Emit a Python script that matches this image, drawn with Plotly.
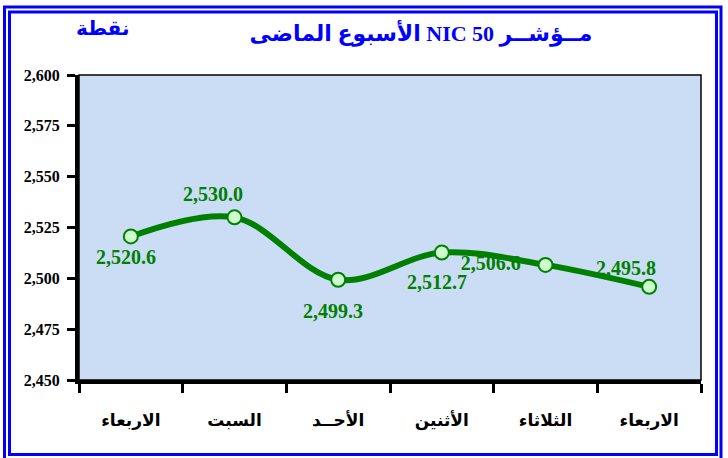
import plotly.graph_objects as go

# ---- data ----
days = ["الاربعاء", "السبت", "الأحــد", "الأثنين", "الثلاثاء", "الاربعاء"]
values = [2520.6, 2530.0, 2499.3, 2512.7, 2506.6, 2495.8]
y_ticks = [2450, 2475, 2500, 2525, 2550, 2575, 2600]
title_text = "الأسبوع الماضى NIC 50 مــؤشــر"
unit_text = "نقطة"

# label offsets (pixels) relative to each point
label_dx = [-5, -22, -5, -5, None, -23]
label_dy = [-21, 23, -31, -29, None, 19]

W, H = 728, 458
PL, PR, PT, PB = 79, 701, 74.5, 380


def px(x):
    return (x - PL) / (PR - PL)


def py(y):
    return (PB - y) / (PB - PT)


GREEN = "#008000"
BLUE = "#0000ff"
xs = list(range(len(days)))
bounds = [i - 0.5 for i in range(len(days) + 1)]

fig = go.Figure()

# label that sits behind the line (index 4)
fig.add_trace(go.Scatter(
    x=[xs[4]], y=[values[4]], mode="markers+text",
    marker=dict(size=38, opacity=0),
    text=[f"{values[4]:,.1f}"], textposition="middle left",
    textfont=dict(family="Liberation Serif", size=20, color=GREEN, weight="bold"),
    hoverinfo="skip", showlegend=False,
))

fig.add_trace(go.Scatter(
    x=xs, y=values, mode="lines+markers",
    line=dict(color=GREEN, width=6, shape="spline", smoothing=1.0),
    marker=dict(size=14, color="#ccffcc", line=dict(color=GREEN, width=2)),
    showlegend=False,
))

annotations = []
for i, v in enumerate(values):
    if label_dx[i] is None:
        continue
    annotations.append(dict(
        x=xs[i], y=v, xref="x", yref="y", text=f"{v:,.1f}", showarrow=False,
        xshift=label_dx[i], yshift=label_dy[i],
        font=dict(family="Liberation Serif", size=20, color=GREEN, weight="bold"),
    ))

annotations.append(dict(
    x=px(103), y=py(27), xref="paper", yref="paper", text=unit_text,
    showarrow=False, xanchor="center", yanchor="middle",
    font=dict(family="Liberation Sans, DejaVu Sans", size=20, color=BLUE, weight="bold"),
))

shapes = [
    dict(type="rect", xref="paper", yref="paper", x0=0, x1=1, y0=0, y1=1,
         line=dict(color="black", width=1.5), layer="below"),
    dict(type="rect", xref="paper", yref="paper",
         x0=px(4.5), x1=px(721), y0=py(6.5), y1=py(462),
         line=dict(color=BLUE, width=3)),
    dict(type="rect", xref="paper", yref="paper",
         x0=px(9.5), x1=px(716.5), y0=py(11.5), y1=py(454.5),
         line=dict(color=BLUE, width=3)),
]

fig.update_layout(
    width=W, height=H,
    margin=dict(l=PL, r=W - PR, t=PT, b=H - PB),
    paper_bgcolor="white",
    plot_bgcolor="#cbdcf5",
    title=dict(
        text=title_text, xref="container", yref="container",
        x=421 / W, y=1 - 33 / H, xanchor="center", yanchor="middle",
        font=dict(family="Liberation Serif, DejaVu Sans", size=22, color=BLUE, weight="bold"),
    ),
    xaxis=dict(
        range=[-0.5, len(days) - 0.5],
        tickmode="array", tickvals=xs, ticktext=days, ticks="",
        ticklabelstandoff=22,
        tickfont=dict(family="Liberation Sans, DejaVu Sans", size=17, color="black", weight="bold"),
        showline=True, linecolor="black", linewidth=4,
        showgrid=False, zeroline=False,
        minor=dict(tickmode="array", tickvals=bounds, ticks="outside",
                   ticklen=9, tickwidth=3, tickcolor="black", showgrid=False),
    ),
    xaxis2=dict(
        overlaying="x", anchor="y", side="bottom",
        range=[-0.5, len(days) - 0.5],
        tickmode="array", tickvals=bounds, ticks="inside", ticklen=7,
        tickwidth=3, tickcolor="black", showticklabels=False,
        showline=False, showgrid=False, zeroline=False,
    ),
    yaxis=dict(
        range=[y_ticks[0], y_ticks[-1]],
        tickmode="array", tickvals=y_ticks, tickformat=",.0f",
        ticks="outside", ticklen=8, tickwidth=3, tickcolor="black",
        ticklabelstandoff=4,
        tickfont=dict(family="Liberation Serif", size=16, color="black", weight="bold"),
        showline=True, linecolor="black", linewidth=4,
        showgrid=False, zeroline=False,
    ),
    annotations=annotations,
    shapes=shapes,
)

fig.write_html(
    "out.html",
    config={"displayModeBar": False},
    post_script="document.body.style.margin='0';document.body.style.overflow='hidden';",
)
